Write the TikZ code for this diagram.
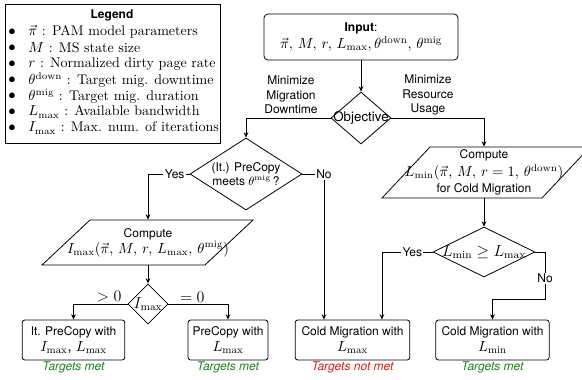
\documentclass[tikz,border=0pt]{standalone}
\usepackage{fontspec}
\setsansfont{TeX Gyre Heros}
\usetikzlibrary{shapes.geometric,arrows.meta}
\definecolor{okgreen}{RGB}{30,130,30}
\definecolor{badred}{RGB}{225,25,25}
\newcommand{\kbig}{\fontsize{11}{13}\selectfont}
\newcommand{\kmid}{\fontsize{10.5}{12.5}\selectfont}
\begin{document}
\begin{tikzpicture}[x=0.75pt,y=-0.75pt,line width=0.6pt,
  arr/.style={-{Stealth[length=4pt,width=3.5pt]}},
  dec/.style={diamond,draw,inner sep=0pt,font=\sffamily\small,align=center},
  fin/.style={draw,rounded corners=2pt,minimum height=30pt,inner sep=0pt,align=center,font=\sffamily\small},
  lbl/.style={font=\sffamily\small,fill=white,inner sep=1pt},
  txt/.style={font=\sffamily\small,align=center,inner sep=0pt},
  res/.style={font=\sffamily\small\itshape,anchor=north,inner sep=1pt}]
\useasboundingbox (0,0) rectangle (582,379);
\pgfmathsetmacro{\kly}{32}
\pgfmathsetmacro{\klstep}{16}
% legend
\draw (5,4) rectangle (220,143);
\node[font=\sffamily\small\bfseries] (legtitle) at (112,15) {Legend};
\foreach \ky/\sym/\desc in {0/{$\vec{\pi}$}/{PAM model parameters},1/{$M$}/{MS state size},2/{$r$}/{Normalized dirty page rate},3/{$\theta^{\mathrm{down}}$}/{Target mig. downtime},4/{$\theta^{\mathrm{mig}}$}/{Target mig. duration},5/{$L_{\max}$}/{Available bandwidth},6/{$I_{\max}$}/{Max. num. of iterations}}{
  \node[font=\kmid] (bul\ky) at (12,\kly+\ky*\klstep) {$\bullet$};
  \node[anchor=west,inner sep=0pt,font=\kmid] (leg\ky) at (28,\kly+\ky*\klstep) {\sym{} : \desc};
}
% top
\node[draw,rounded corners=3pt,minimum width=145.5pt,minimum height=34.5pt,inner sep=0pt,align=center] (inp) at (361,37)
  {{\sffamily\small\textbf{Input}:}\\[1pt]{\kbig$\vec{\pi},\, M,\, r,\, L_{\max}, \theta^{\mathrm{down}},\, \theta^{\mathrm{mig}}$}};
\node[dec,font=\sffamily,minimum width=45pt,minimum height=39pt] (obj) at (361,118) {\makebox[0pt]{Objective}};
\node[txt] (minL) at (291,95) {Minimize\\Migration\\Downtime};
\node[txt] (minR) at (428,95) {Minimize\\Resource\\Usage};
% left branch
\node[dec,minimum width=84pt,minimum height=54pt] (pc) at (246,174) {\makebox[0pt]{(It.) PreCopy}\\\makebox[0pt]{meets $\theta^{\mathrm{mig}}$\,?}};
\draw (90,220)--(253,220)--(205,265)--(42,265)--cycle;
\node[txt,minimum height=33.75pt] (cmpL) at (148,242.5) {Compute\\[1pt]{\kmid$I_{\max}(\vec{\pi},\, M,\, r,\, L_{\max},\, \theta^{\mathrm{mig}})$}};
\node[dec,minimum width=30pt,minimum height=30pt] (imx) at (148,304) {\makebox[0pt]{\large$I_{\max}$}};
% right branch
\draw (430,147)--(590,147)--(542,198)--(382,198)--cycle;
\node[txt,minimum height=38.25pt] (cmpR) at (484,172.5) {Compute\\[1pt]{\kmid$L_{\min}(\vec{\pi},\, M,\, r=1,\, \theta^{\mathrm{down}})$}\\[1pt]for Cold Migration};
\node[dec,minimum width=76.5pt,minimum height=37.5pt] (lmin) at (484,252) {\makebox[0pt]{\large$L_{\min}\ge L_{\max}$}};
\coordinate (noturn) at (545,299);
% outcomes
\node[fin,minimum width=77pt] (b1) at (73.5,340) {It. PreCopy with\\[1pt]{\kbig$I_{\max}$, $L_{\max}$}};
\node[fin,minimum width=60pt] (b2) at (228,340) {PreCopy with\\[1pt]{\kbig$L_{\max}$}};
\node[fin,minimum width=86pt] (b3) at (352.5,340) {Cold Migration with\\[1pt]{\kbig$L_{\max}$}};
\node[fin,minimum width=85pt] (b4) at (492.5,340) {Cold Migration with\\[1pt]{\kbig$L_{\min}$}};
\node[res,text=okgreen] (r1) at (b1.south) {Targets met};
\node[res,text=okgreen] (r2) at (b2.south) {Targets met};
\node[res,text=badred] (r3) at (b3.south) {Targets not met};
\node[res,text=okgreen] (r4) at (b4.south) {Targets met};
% connectors
\draw[arr] (inp)--(obj);
\draw[arr] (obj.west)-|(pc.north);
\draw[arr] (obj.east)-|(cmpR.north);
\draw[arr] (pc.west)-|node[lbl,pos=0.18](yesL){Yes}(cmpL.north);
\draw[arr] (pc.east)-|node[lbl,pos=0.5](noL){No}([xshift=-21.4pt]b3.north);
\draw[arr] (cmpL)--(imx);
\draw[arr] (imx.west)-|node[pos=0.17,above,inner sep=1pt](gt){\large$>0$}(b1.north);
\draw[arr] (imx.east)-|node[pos=0.2,above,inner sep=1pt](eq){\large$=0$}(b2.north);
\draw[arr] (cmpR)--(lmin);
\draw[arr] (lmin.west)-|node[lbl,pos=0.2](yesR){Yes}([xshift=22.1pt]b3.north);
\draw[arr] (lmin.east)-|node[lbl,pos=0.78](noR){No}(noturn)-|(b4.north);
\end{tikzpicture}
\end{document}
